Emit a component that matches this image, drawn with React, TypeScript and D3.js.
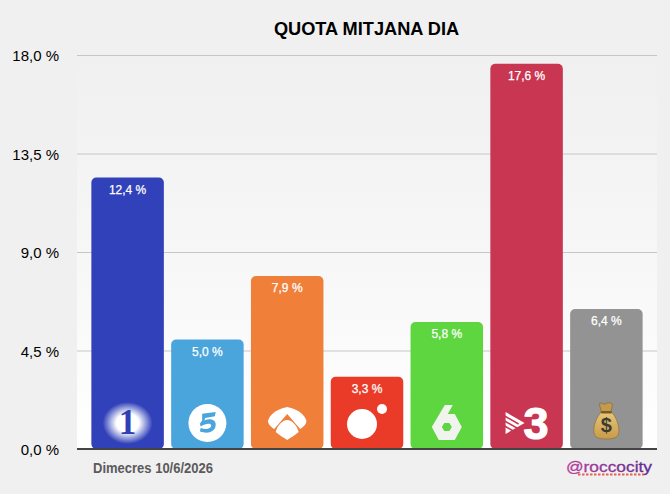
import { useEffect, useRef } from "react"
import * as d3 from "d3"

const channels = ["La 1", "Telecinco", "Antena 3", "Cuatro", "La Sexta", "TV3", "Altres"]
const shares = [12.4, 5.0, 7.9, 3.3, 5.8, 17.6, 6.4]
const barColors = ["#3041b9", "#4aa5dc", "#f07f3a", "#ea3a28", "#5dd63f", "#c93651", "#939393"]
const yTicks = [0, 4.5, 9, 13.5, 18]

const title = "QUOTA MITJANA DIA"
const dateLabel = "Dimecres 10/6/2026"
const credit = "@roccocity"

const width = 670
const height = 494
const margin = { top: 55, right: 13, bottom: 45, left: 77 }
const sansFont = "'Liberation Sans', Arial, sans-serif"

const pct = (v: number) => `${v.toFixed(1).replace(".", ",")} %`

// channel logos, drawn around (0,0) = centre of the logo
const logos: Record<string, React.ReactNode> = {
  "La 1": (
    <g>
      <ellipse cx={0} cy={0} rx={25} ry={21} fill="url(#glow)" />
      <text y={11} textAnchor="middle" fontFamily="'Liberation Serif', serif" fontWeight="bold" fontSize={35} fill="#2f3fb5">1</text>
    </g>
  ),
  Telecinco: (
    <g>
      <circle r={19} fill="#fff" />
      <g transform="scale(0.75,0.85)" fill="#4aa5dc">
        <path d="M-7,-11 L11,-13 L10,-8 L-3,-6 L-4,-3 C4,-6 12,-4 11,3 C10,11 0,13 -10,10 L-9,6 C-2,8 5,7 5,3 C5,0 -2,0 -9,4 L-10,1 L-7,-3 Z" />
      </g>
    </g>
  ),
  "Antena 3": (
    <g fill="#fff">
      <path d="M0,-16 C4,-15 15,-13 19,-3 C20,1 16,4 13,6 L0,-9 L-13,6 C-16,4 -20,1 -19,-3 C-15,-13 -4,-15 0,-16 Z" />
      <path d="M0,-3 C5,-3 10,3 11.5,9 C8,12 3,15 0,17 C-3,15 -8,12 -11.5,9 C-10,3 -5,-3 0,-3 Z" />
    </g>
  ),
  Cuatro: (
    <g fill="#fff">
      <circle cx={-5} cy={1} r={15} />
      <circle cx={15} cy={-14} r={5} />
    </g>
  ),
  "La Sexta": (
    <g>
      <path d="M-15,4 L-2,-18 L6,-18 L1,-9 L8,-9 L15,4 L8,17 L-8,17 Z" fill="#f1f4ee" />
      <path d="M-5,4 L-2.5,0 L2.5,0 L5,4 L2.5,8 L-2.5,8 Z" fill="#5dd63f" />
    </g>
  ),
  TV3: (
    <g fill="#fff">
      <path d="M-21,-11 L-2,0 L-21,11 Z" />
      <g stroke="#c93651" strokeWidth={1.5}>
        <line x1={-22} y1={-7} x2={-8} y2={1} />
        <line x1={-22} y1={-2} x2={-8} y2={6} />
        <line x1={-22} y1={3} x2={-10} y2={10} />
      </g>
      <text x={9.5} y={16} textAnchor="middle" fontFamily="'Liberation Sans', sans-serif" fontWeight="bold" fontSize={45} stroke="#fff" strokeWidth={1.2}>3</text>
    </g>
  ),
  Altres: (
    <g>
      <path d="M-5,-11 C-6,-16 -8,-20 -6,-20 C-4,-20 -2,-18 -1,-19 C1,-21 3,-20 4,-20 C7,-20 6,-15 4,-11 Z" fill="#c49a4c" stroke="#7d5f2a" strokeWidth={0.6} />
      <path d="M-5,-11 C-10,-6 -13,3 -12.5,9 C-12,15 -7,16 0,16 C7,16 12,15 12.5,9 C13,3 10,-6 5,-11 Z" fill="url(#bag)" stroke="#8a6a2f" strokeWidth={0.6} />
      <rect x={-5.5} y={-12} width={11} height={2.5} rx={1.2} fill="#7d5a22" />
      <text y={9} textAnchor="middle" fontFamily="'Liberation Sans', sans-serif" fontWeight="bold" fontSize={20} fill="#3f3a30">$</text>
    </g>
  ),
}

export default function App() {
  const axisRef = useRef<SVGGElement>(null)

  const x = d3
    .scaleBand()
    .domain(channels)
    .range([margin.left, width - margin.right])
    .paddingInner(0.0915)
    .paddingOuter(0.18)

  const y = d3
    .scaleLinear()
    .domain([0, 18])
    .range([height - margin.bottom, margin.top])

  useEffect(() => {
    const g = d3.select(axisRef.current)
    g.selectAll("*").remove()
    g.call(
      d3
        .axisLeft(y)
        .tickValues(yTicks)
        .tickSize(-(width - margin.left - margin.right))
        .tickPadding(18)
        .tickFormat((d) => pct(d as number)),
    )
    g.select(".domain").remove()
    g.selectAll(".tick line").attr("stroke", "#c6c6c6").attr("stroke-width", 1)
    g.selectAll(".tick text")
      .attr("fill", "#000")
      .attr("font-family", sansFont)
      .attr("font-size", 15)
      .attr("dy", "0.38em")
  }, [])

  return (
    <svg width={width} height={height} style={{ position: "absolute", left: 0, top: 0 }}>
      <defs>
        <linearGradient id="plotBg" x1="0" y1="0" x2="0" y2="1">
          <stop offset="0" stopColor="#f0f0f0" />
          <stop offset="0.45" stopColor="#f6f6f6" />
          <stop offset="1" stopColor="#ffffff" />
        </linearGradient>
        <radialGradient id="glow">
          <stop offset="0.45" stopColor="#fff" />
          <stop offset="1" stopColor="#fff" stopOpacity={0} />
        </radialGradient>
        <linearGradient id="bag" x1="0" y1="0" x2="0" y2="1">
          <stop offset="0" stopColor="#e6c77c" />
          <stop offset="1" stopColor="#c79a48" />
        </linearGradient>
        <linearGradient id="creditFill" x1="0" y1="0" x2="1" y2="0">
          <stop offset="0" stopColor="#b8409a" />
          <stop offset="1" stopColor="#5b2c91" />
        </linearGradient>
      </defs>

      <rect width={width} height={height} fill="#f0f0f0" />
      <rect
        x={margin.left}
        y={margin.top}
        width={width - margin.left - margin.right}
        height={height - margin.top - margin.bottom}
        fill="url(#plotBg)"
      />

      <g ref={axisRef} transform={`translate(${margin.left},0)`} />

      {channels.map((c, i) => {
        const bx = x(c) as number
        const cx = bx + x.bandwidth() / 2
        return (
          <g key={c}>
            <rect
              x={bx}
              y={y(shares[i])}
              width={x.bandwidth()}
              height={y(0) - y(shares[i])}
              rx={5}
              fill={barColors[i]}
            />
            <text
              x={cx}
              y={y(shares[i]) + 16}
              textAnchor="middle"
              fontFamily={sansFont}
              fontSize={12}
              fill="#fff"
              stroke="#fff"
              strokeWidth={0.25}
            >
              {pct(shares[i])}
            </text>
            <g transform={`translate(${cx},${y(0) - 26})`}>{logos[c]}</g>
          </g>
        )
      })}

      <line x1={margin.left} x2={width - margin.right} y1={y(0)} y2={y(0)} stroke="#444" strokeWidth={2} />

      <text x={366.5} y={35} textAnchor="middle" fontFamily={sansFont} fontWeight="bold" fontSize={18.2} fill="#000">
        {title}
      </text>
      <text
        x={93}
        y={473}
        fontFamily={sansFont}
        fontWeight="bold"
        fontSize={15}
        fill="#5a5a5a"
        textLength={120}
        lengthAdjust="spacingAndGlyphs"
      >
        {dateLabel}
      </text>
      <text
        x={566}
        y={472}
        fontFamily={sansFont}
        fontSize={15.5}
        fill="url(#creditFill)"
        stroke="url(#creditFill)"
        strokeWidth={0.3}
        textLength={86}
        lengthAdjust="spacingAndGlyphs"
      >
        {credit}
      </text>
      <line x1={578} x2={644} y1={474.5} y2={474.5} stroke="#e8604f" strokeWidth={2} strokeDasharray="2.5 1.5" />
    </svg>
  )
}
